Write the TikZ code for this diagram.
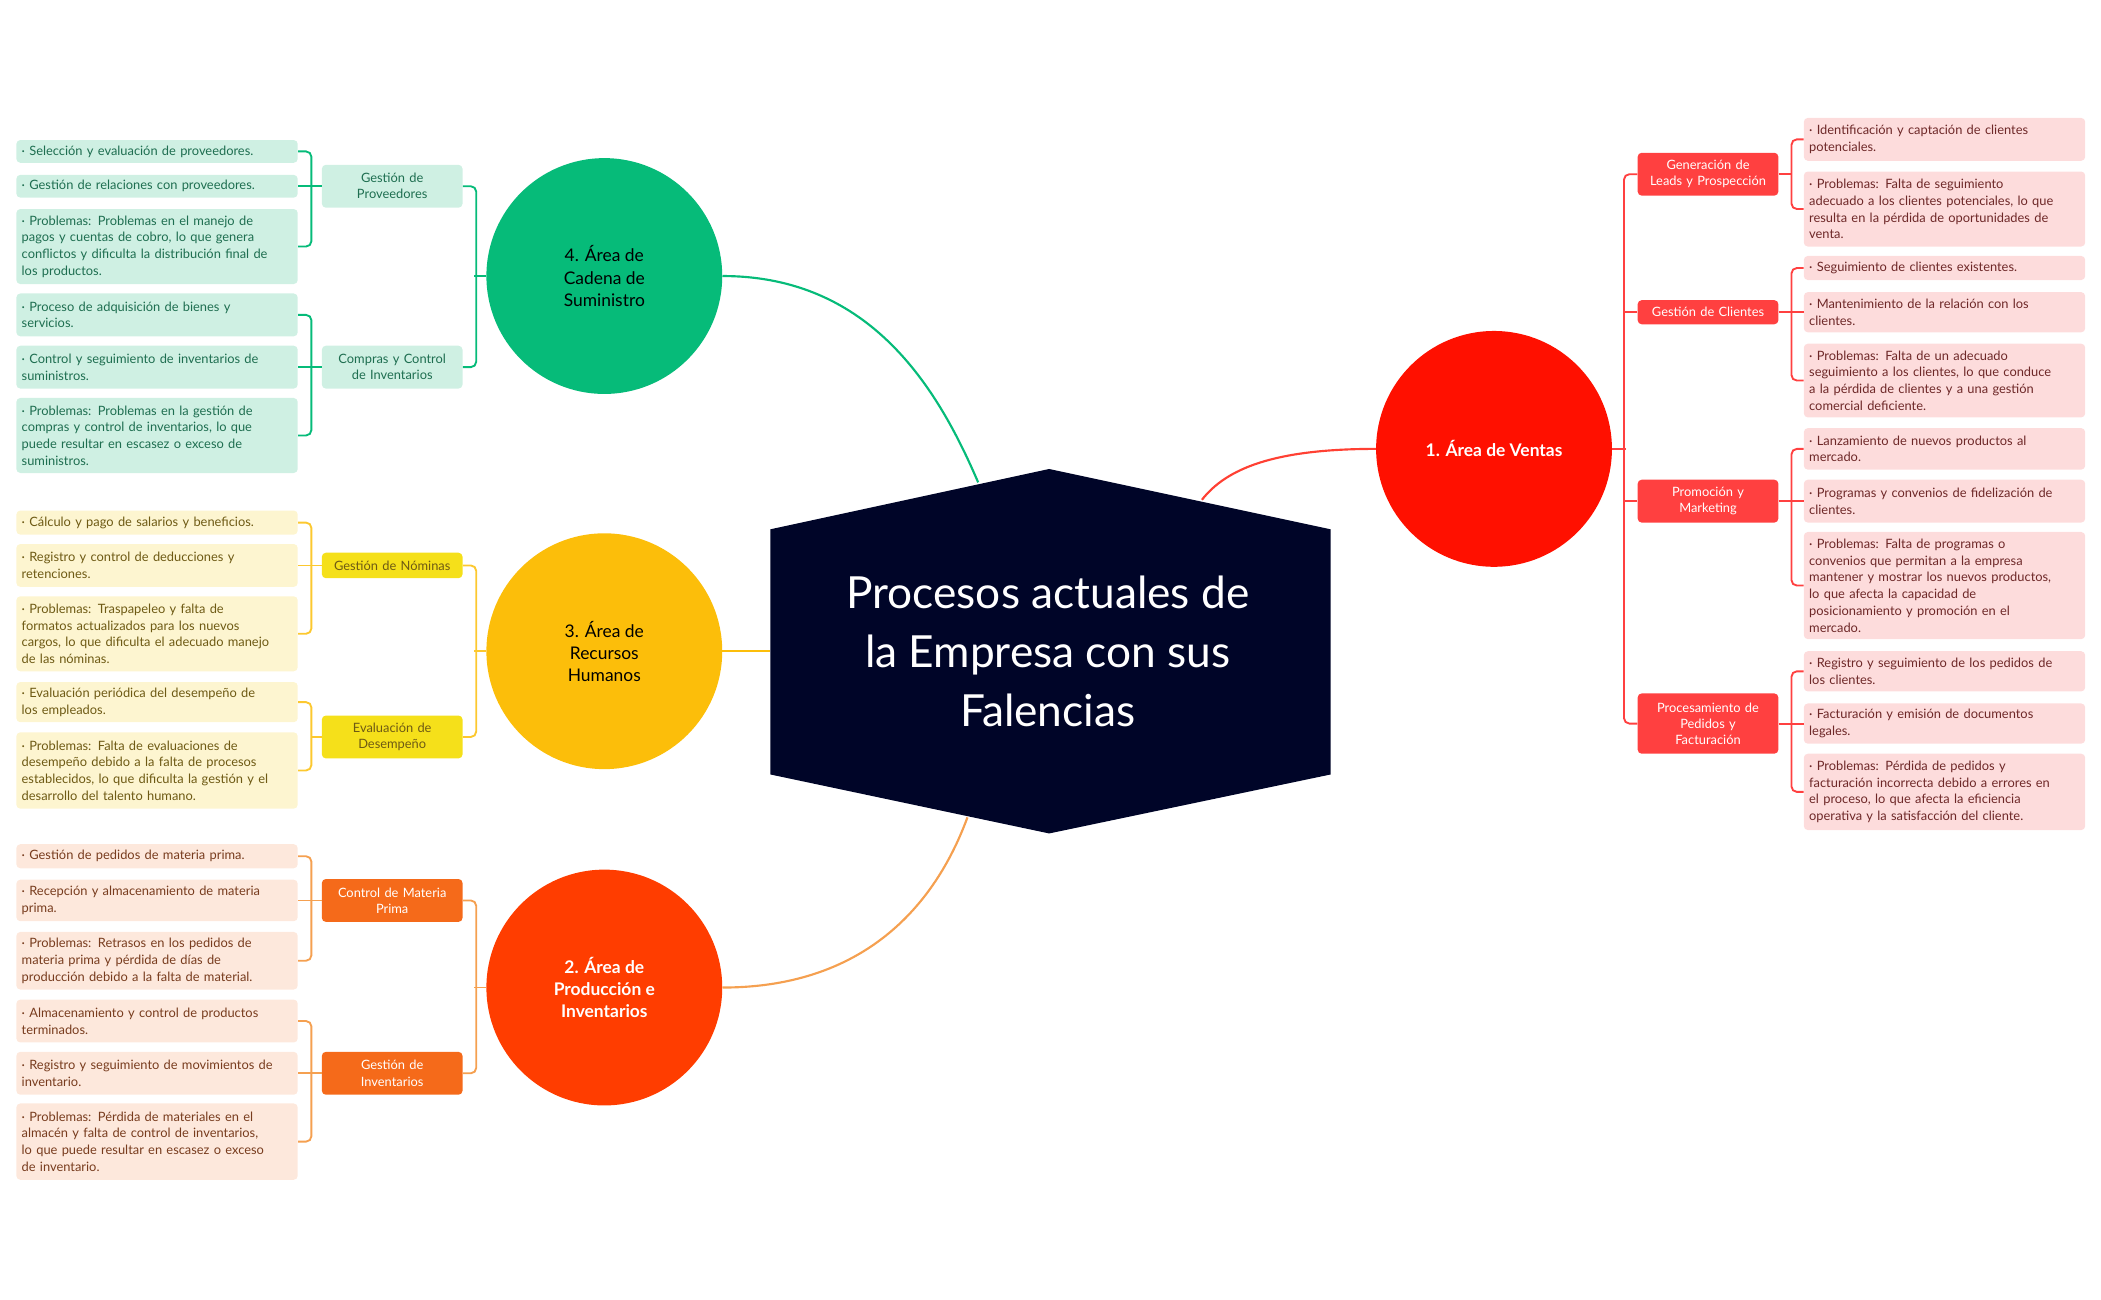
\documentclass[tikz,border=0pt]{standalone}
\usepackage{fontspec}
\setmainfont{Lato}
\begin{document}
\begin{tikzpicture}[x=1pt,y=-1pt,
 lf/.style={rounded corners=3,anchor=west,minimum width=210,inner xsep=4,inner ysep=2,align=left,text width=202,font=\fontsize{9.6}{12.5}\selectfont},
 sb/.style={rounded corners=3,anchor=west,minimum width=105,inner sep=2,align=center,text width=100,font=\fontsize{9.6}{12}\selectfont},
 cir/.style={circle,minimum size=176,inner sep=0,align=center,font=\fontsize{13}{16.5}\selectfont},
 ln/.style={line width=1.4,rounded corners=4}]
\definecolor{navy}{RGB}{0,5,40}
\definecolor{vred}{RGB}{255,16,0}\definecolor{rsub}{RGB}{255,64,64}\definecolor{rleaf}{RGB}{253,220,220}\definecolor{rtxt}{RGB}{110,40,40}
\definecolor{vgreen}{RGB}{6,187,121}\definecolor{gleaf}{RGB}{207,240,227}\definecolor{gtxt}{RGB}{30,110,80}
\definecolor{vyel}{RGB}{252,190,10}\definecolor{ysub}{RGB}{245,224,26}\definecolor{yleaf}{RGB}{253,245,208}\definecolor{ytxt}{RGB}{110,90,20}
\definecolor{vora}{RGB}{255,61,0}\definecolor{osub}{RGB}{245,106,26}\definecolor{oleaf}{RGB}{253,232,220}\definecolor{otxt}{RGB}{120,60,30}
\definecolor{oline}{RGB}{245,160,80}
\useasboundingbox (0,0) rectangle (1568,970);
% hexagon
\fill[navy] (783,350) -- (993,395) -- (993,578) -- (783,622) -- (575,578) -- (575,395) -- cycle;
\node[text=white,align=center,font=\fontsize{33}{44}\selectfont] (title) at (782,486) {Procesos actuales de\\la Empresa con sus\\Falencias};
\coordinate (hG) at (730,360);\coordinate (hY) at (575,486);\coordinate (hO) at (722,610);\coordinate (hR) at (897,373);
% circles
\node[cir,fill=vred,text=white] (ven) at (1115,335) {\bfseries 1. Área de Ventas};
\node[cir,fill=vgreen] (cad) at (451,206) {4. Área de\\Cadena de\\Suministro};
\node[cir,fill=vyel] (rh) at (451,486) {3. Área de\\Recursos\\Humanos};
\node[cir,fill=vora,text=white] (pro) at (451,737) {\bfseries 2. Área de\\\bfseries Producción e\\\bfseries Inventarios};
\draw[vgreen,line width=1.6] (cad.east) .. controls (650,206) and (700,290) .. (hG);
\draw[vyel,line width=1.6] (rh.east) -- (hY);
\draw[oline,line width=1.6] (pro.east) .. controls (650,737) and (700,670) .. (hO);
\draw[vred!80,line width=1.6] (ven.west) .. controls (950,335) and (915,350) .. (hR);
% ===== right: ventas
\begin{scope}[every node/.append style={text=rtxt}]
\node[lf,fill=rleaf,minimum height=32] (r1) at (1346,104) {· Identificación y captación de clientes\\potenciales.};
\node[lf,fill=rleaf,minimum height=56] (r2) at (1346,156) {· Problemas: Falta de seguimiento\\adecuado a los clientes potenciales, lo que\\resulta en la pérdida de oportunidades de\\venta.};
\node[lf,fill=rleaf,minimum height=18] (r3) at (1346,200) {· Seguimiento de clientes existentes.};
\node[lf,fill=rleaf,minimum height=30] (r4) at (1346,233) {· Mantenimiento de la relación con los\\clientes.};
\node[lf,fill=rleaf,minimum height=55] (r5) at (1346,284) {· Problemas: Falta de un adecuado\\seguimiento a los clientes, lo que conduce\\a la pérdida de clientes y a una gestión\\comercial deficiente.};
\node[lf,fill=rleaf,minimum height=31] (r6) at (1346,335) {· Lanzamiento de nuevos productos al\\mercado.};
\node[lf,fill=rleaf,minimum height=32] (r7) at (1346,374) {· Programas y convenios de fidelización de\\clientes.};
\node[lf,fill=rleaf,minimum height=80] (r8) at (1346,437) {· Problemas: Falta de programas o\\convenios que permitan a la empresa\\mantener y mostrar los nuevos productos,\\lo que afecta la capacidad de\\posicionamiento y promoción en el\\mercado.};
\node[lf,fill=rleaf,minimum height=30] (r9) at (1346,501) {· Registro y seguimiento de los pedidos de\\los clientes.};
\node[lf,fill=rleaf,minimum height=30] (r10) at (1346,540) {· Facturación y emisión de documentos\\legales.};
\node[lf,fill=rleaf,minimum height=57] (r11) at (1346,591) {· Problemas: Pérdida de pedidos y\\facturación incorrecta debido a errores en\\el proceso, lo que afecta la eficiencia\\operativa y la satisfacción del cliente.};
\end{scope}
\begin{scope}[every node/.append style={fill=rsub,text=white}]
\node[sb,minimum height=32] (rs1) at (1222,130) {Generación de\\Leads y Prospección};
\node[sb,minimum height=18] (rs2) at (1222,233) {Gestión de Clientes};
\node[sb,minimum height=32] (rs3) at (1222,374) {Promoción y\\Marketing};
\node[sb,minimum height=45] (rs4) at (1222,540) {Procesamiento de\\Pedidos y\\Facturación};
\end{scope}
\begin{scope}[rsub]
\draw[ln] (r1.west) -- ++(-9,0) |- (r2.west); \draw[ln] (rs1.east) -- ++(10,0);
\draw[ln] (r3.west) -- ++(-9,0) |- (r5.west); \draw[ln] (r4.west) -- ++(-9,0); \draw[ln] (rs2.east) -- ++(10,0);
\draw[ln] (r6.west) -- ++(-9,0) |- (r8.west); \draw[ln] (r7.west) -- ++(-9,0); \draw[ln] (rs3.east) -- ++(10,0);
\draw[ln] (r9.west) -- ++(-9,0) |- (r11.west); \draw[ln] (r10.west) -- ++(-9,0); \draw[ln] (rs4.east) -- ++(10,0);
\draw[ln] (rs1.west) -- ++(-10,0) |- (rs4.west); \draw[ln] (rs2.west) -- ++(-10,0); \draw[ln] (rs3.west) -- ++(-10,0); \draw[ln] (ven.east) -- ++(10,0);
\end{scope}
% ===== left green
\begin{scope}[every node/.append style={text=gtxt,fill=gleaf}]
\node[lf,minimum height=17] (g1) at (12,113) {· Selección y evaluación de proveedores.};
\node[lf,minimum height=17] (g2) at (12,139) {· Gestión de relaciones con proveedores.};
\node[lf,minimum height=56] (g3) at (12,184) {· Problemas: Problemas en el manejo de\\pagos y cuentas de cobro, lo que genera\\conflictos y dificulta la distribución final de\\los productos.};
\node[lf,minimum height=32] (g4) at (12,235) {· Proceso de adquisición de bienes y\\servicios.};
\node[lf,minimum height=32] (g5) at (12,274) {· Control y seguimiento de inventarios de\\suministros.};
\node[lf,minimum height=56] (g6) at (12,325) {· Problemas: Problemas en la gestión de\\compras y control de inventarios, lo que\\puede resultar en escasez o exceso de\\suministros.};
\node[sb,minimum height=32] (gs1) at (240,139) {Gestión de\\Proveedores};
\node[sb,minimum height=32] (gs2) at (240,274) {Compras y Control\\de Inventarios};
\end{scope}
\begin{scope}[vgreen]
\draw[ln] (g1.east) -- ++(10,0) |- (g3.east); \draw[ln] (g2.east) -- ++(10,0); \draw[ln] (gs1.west) -- ++(-8,0);
\draw[ln] (g4.east) -- ++(10,0) |- (g6.east); \draw[ln] (g5.east) -- ++(10,0); \draw[ln] (gs2.west) -- ++(-8,0);
\draw[ln] (gs1.east) -- ++(10,0) |- (gs2.east); \draw[ln] (cad.west) -- ++(-9,0);
\end{scope}
% ===== left yellow
\begin{scope}[every node/.append style={text=ytxt,fill=yleaf}]
\node[lf,minimum height=18] (y1) at (12,390) {· Cálculo y pago de salarios y beneficios.};
\node[lf,minimum height=32] (y2) at (12,422) {· Registro y control de deducciones y\\retenciones.};
\node[lf,minimum height=56] (y3) at (12,473) {· Problemas: Traspapeleo y falta de\\formatos actualizados para los nuevos\\cargos, lo que dificulta el adecuado manejo\\de las nóminas.};
\node[lf,minimum height=30] (y4) at (12,524) {· Evaluación periódica del desempeño de\\los empleados.};
\node[lf,minimum height=57] (y5) at (12,575) {· Problemas: Falta de evaluaciones de\\desempeño debido a la falta de procesos\\establecidos, lo que dificulta la gestión y el\\desarrollo del talento humano.};
\end{scope}
\begin{scope}[every node/.append style={text=ytxt,fill=ysub}]
\node[sb,minimum height=19] (ys1) at (240,422) {Gestión de Nóminas};
\node[sb,minimum height=32] (ys2) at (240,550) {Evaluación de\\Desempeño};
\end{scope}
\begin{scope}[vyel!85!white]
\draw[ln] (y1.east) -- ++(10,0) |- (y3.east); \draw[ln] (y2.east) -- ++(10,0); \draw[ln] (ys1.west) -- ++(-8,0);
\draw[ln] (y4.east) -- ++(10,0) |- (y5.east); \draw[ln] (ys2.west) -- ++(-8,0);
\draw[ln] (ys1.east) -- ++(10,0) |- (ys2.east); \draw[ln] (rh.west) -- ++(-9,0);
\end{scope}
% ===== left orange
\begin{scope}[every node/.append style={text=otxt,fill=oleaf}]
\node[lf,minimum height=18] (o1) at (12,639) {· Gestión de pedidos de materia prima.};
\node[lf,minimum height=31] (o2) at (12,672) {· Recepción y almacenamiento de materia\\prima.};
\node[lf,minimum height=43] (o3) at (12,717) {· Problemas: Retrasos en los pedidos de\\materia prima y pérdida de días de\\producción debido a la falta de material.};
\node[lf,minimum height=32] (o4) at (12,762) {· Almacenamiento y control de productos\\terminados.};
\node[lf,minimum height=32] (o5) at (12,801) {· Registro y seguimiento de movimientos de\\inventario.};
\node[lf,minimum height=57] (o6) at (12,852) {· Problemas: Pérdida de materiales en el\\almacén y falta de control de inventarios,\\lo que puede resultar en escasez o exceso\\de inventario.};
\end{scope}
\begin{scope}[every node/.append style={text=white,fill=osub}]
\node[sb,minimum height=32] (os1) at (240,672) {Control de Materia\\Prima};
\node[sb,minimum height=32] (os2) at (240,801) {Gestión de\\Inventarios};
\end{scope}
\begin{scope}[oline]
\draw[ln] (o1.east) -- ++(10,0) |- (o3.east); \draw[ln] (o2.east) -- ++(10,0); \draw[ln] (os1.west) -- ++(-8,0);
\draw[ln] (o4.east) -- ++(10,0) |- (o6.east); \draw[ln] (o5.east) -- ++(10,0); \draw[ln] (os2.west) -- ++(-8,0);
\draw[ln] (os1.east) -- ++(10,0) |- (os2.east); \draw[ln] (pro.west) -- ++(-9,0);
\end{scope}
\end{tikzpicture}
\end{document}
